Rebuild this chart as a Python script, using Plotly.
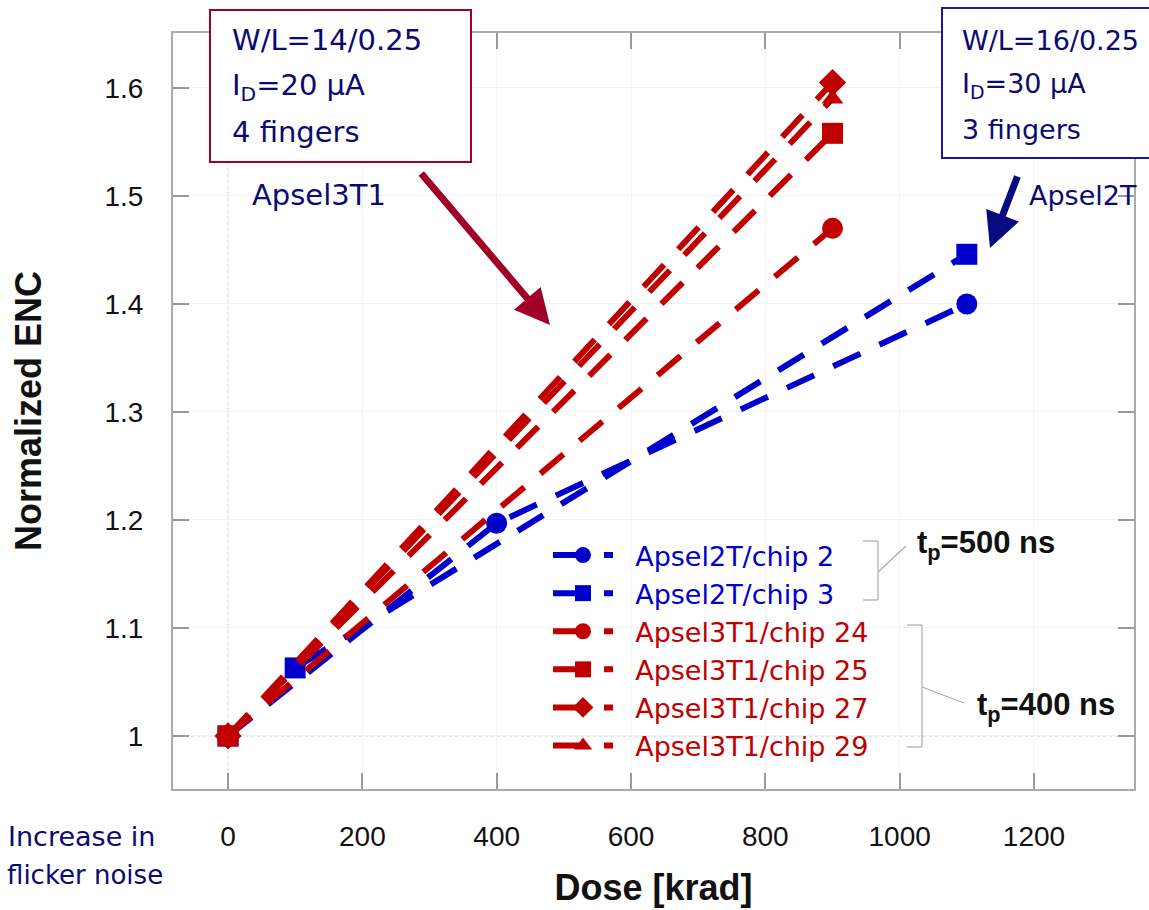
import plotly.graph_objects as go

# ---------------- data ----------------
dose_2t_chip2 = [0, 400, 1100]
enc_2t_chip2 = [1.0, 1.197, 1.400]

dose_2t_chip3 = [0, 100, 1100]
enc_2t_chip3 = [1.0, 1.063, 1.446]

dose_3t1 = [0, 900]
enc_3t1_chip24 = [1.0, 1.470]
enc_3t1_chip25 = [1.0, 1.558]
enc_3t1_chip27 = [1.0, 1.605]
enc_3t1_chip29 = [1.0, 1.590]

names = ["Apsel2T/chip 2", "Apsel2T/chip 3", "Apsel3T1/chip 24",
         "Apsel3T1/chip 25", "Apsel3T1/chip 27", "Apsel3T1/chip 29"]

BLUE = "#0000cc"
RED = "#c00000"
NAVY = "#0a0a73"
DARKRED = "#a00028"
W, H = 1149, 910
L, R, T, B = 173, 1134, 33, 789


def px(x):
    return (x - L) / (R - L)


def py(y):
    return (B - y) / (B - T)


DASH = "30px,21px"
LW = 6

series = [
    (dose_2t_chip2, enc_2t_chip2, names[0], BLUE, "circle", 21),
    (dose_2t_chip3, enc_2t_chip3, names[1], BLUE, "square", 21),
    (dose_3t1, enc_3t1_chip24, names[2], RED, "circle", 21),
    (dose_3t1, enc_3t1_chip25, names[3], RED, "square", 21),
    (dose_3t1, enc_3t1_chip27, names[4], RED, "diamond", 21),
    (dose_3t1, enc_3t1_chip29, names[5], RED, "triangle-up", 19),
]

fig = go.Figure()
for xs, ys, nm, col, sym, sz in series:
    fig.add_trace(go.Scatter(
        x=xs, y=ys, mode="lines+markers",
        name='<span style="color:%s">\u00a0\u00a0%s</span>' % (col, nm),
        line=dict(color=col, width=LW, dash=DASH),
        marker=dict(color=col, symbol=sym, size=sz, line=dict(width=0)),
    ))

axis_common = dict(
    showline=True, linecolor="#aaaaaa", linewidth=2, mirror="ticks",
    ticks="inside", ticklen=16, tickcolor="#999999", tickwidth=1.5,
    showgrid=True, gridcolor="#f2f2f2", gridwidth=1, zeroline=False,
    automargin=False,
    tickfont=dict(family="Liberation Sans, Arial", size=28, color="#111111"),
)

fig.update_xaxes(range=[-81.9, 1348.9], dtick=200, tick0=0,
                 ticklabelstandoff=21,
                 title=dict(text="<b>Dose [krad]</b>", standoff=24,
                            font=dict(family="Liberation Sans, Arial", size=36, color="#111111")),
                 **axis_common)
fig.update_yaxes(range=[0.9509, 1.6509], dtick=0.1, tick0=1.0,
                 ticklabelstandoff=22,
                 title=dict(text="<b>Normalized ENC</b>", standoff=52,
                            font=dict(family="Liberation Sans, Arial", size=36, color="#111111")),
                 **axis_common)

shapes = []
# dotted reference lines at x=0 and y=1
shapes.append(dict(type="line", xref="x", yref="paper", x0=0, x1=0, y0=0, y1=1,
                   line=dict(color="#d8d8d8", width=1.5, dash="dot"), layer="below"))
shapes.append(dict(type="line", xref="paper", yref="y", x0=0, x1=1, y0=1.0, y1=1.0,
                   line=dict(color="#d8d8d8", width=1.5, dash="dot"), layer="below"))

# boxes
shapes.append(dict(type="rect", xref="paper", yref="paper",
                   x0=px(210), x1=px(471), y0=py(162), y1=py(10),
                   line=dict(color=DARKRED, width=2), fillcolor="white"))
shapes.append(dict(type="rect", xref="paper", yref="paper",
                   x0=px(942), x1=px(1170), y0=py(158), y1=py(8),
                   line=dict(color="#1a1a8c", width=2), fillcolor="white"))

# brackets near legend
GR = "#aaaaaa"


def seg(x0, y0, x1, y1):
    shapes.append(dict(type="line", xref="paper", yref="paper",
                       x0=px(x0), y0=py(y0), x1=px(x1), y1=py(y1),
                       line=dict(color=GR, width=1.2)))


seg(878, 541, 878, 600)
seg(863, 541, 878, 541)
seg(863, 600, 878, 600)
seg(878, 572, 906, 546)
seg(922, 625, 922, 747)
seg(907, 625, 922, 625)
seg(907, 747, 922, 747)
seg(922, 687, 964, 703)

annotations = []
HAND = "DejaVu Sans"


def txt(x, y, s, anchor="left", size=29, color=NAVY, family=HAND):
    annotations.append(dict(xref="paper", yref="paper", x=px(x), y=py(y), text=s,
                            showarrow=False, xanchor=anchor, yanchor="middle",
                            font=dict(family=family, size=size, color=color)))


txt(230, 40, "W/L=14/0.25")
txt(230, 87, "I<sub>D</sub>=20 µA")
txt(230, 132, "4 fingers")
txt(960, 40, "W/L=16/0.25", size=27)
txt(960, 85, "I<sub>D</sub>=30 µA", size=27)
txt(960, 130, "3 fingers", size=27)
txt(250, 195, "Apsel3T1")
txt(1027, 195, "Apsel2T", size=27)
txt(157, 836, "Increase in", anchor="right", size=27)
txt(165, 875, "flicker noise", anchor="right", size=26)
txt(915, 545, "<b>t<sub>p</sub>=500 ns</b>", size=31, color="#111111",
    family="Liberation Sans, Arial")
txt(975, 707, "<b>t<sub>p</sub>=400 ns</b>", size=31, color="#111111",
    family="Liberation Sans, Arial")

# arrows
annotations.append(dict(xref="paper", yref="paper", x=px(550), y=py(325), text="",
                        showarrow=True, ax=420 - 550, ay=172 - 325,
                        arrowcolor=DARKRED, arrowwidth=7, arrowhead=2, arrowsize=1))
annotations.append(dict(xref="paper", yref="paper", x=px(990), y=py(248), text="",
                        showarrow=True, ax=1018 - 990, ay=175 - 248,
                        arrowcolor="#0a0a80", arrowwidth=7, arrowhead=2, arrowsize=1))

fig.update_layout(
    width=W, height=H,
    margin=dict(l=L, r=W - R, t=T, b=H - B, autoexpand=False),
    paper_bgcolor="white", plot_bgcolor="white",
    shapes=shapes, annotations=annotations,
    showlegend=True,
    legend=dict(x=px(548), y=py(531), xanchor="left", yanchor="top",
                bgcolor="rgba(0,0,0,0)", borderwidth=0,
                font=dict(family="DejaVu Sans", size=27),
                itemwidth=60, tracegroupgap=0),
)

fig.write_html("out.html")
